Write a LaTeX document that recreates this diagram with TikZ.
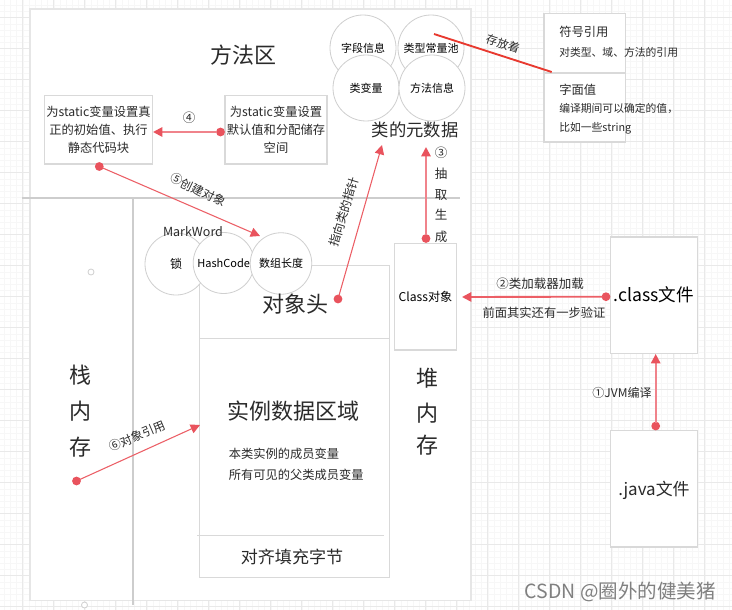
\documentclass[tikz,border=0pt]{standalone}
\usepackage{fontspec}
\setmainfont{Noto Sans CJK SC}
\usetikzlibrary{arrows.meta}
\definecolor{gridminor}{HTML}{F7F7F7}
\definecolor{gridmajor}{HTML}{E9E9E9}
\definecolor{edgegray}{HTML}{D9D9D9}
\definecolor{rimgray}{HTML}{E6E6E6}
\definecolor{ringgray}{HTML}{CFCFCF}
\definecolor{wallgray}{HTML}{CDCDCD}
\definecolor{linkred}{HTML}{EC5F66}
\definecolor{softred}{HTML}{F0838B}
\definecolor{dotred}{HTML}{E9535D}
\definecolor{barred}{HTML}{E8392F}
\definecolor{inkgray}{HTML}{2A2A2A}
\newcommand{\fpx}[1]{\pgfmathsetmacro\fpxval{#1*0.75}\fontsize{\fpxval}{\fpxval}\selectfont}
\tikzset{
  boxx/.style={draw=edgegray,line width=0.9pt,fill=white},
  ring/.style={circle,draw=ringgray,line width=0.6pt,fill=white,inner sep=0pt,minimum size=#1*0.75pt},
  ringfree/.style={circle,draw=ringgray,line width=0.6pt,inner sep=0pt,minimum size=#1*0.75pt},
  lbl/.style={inner sep=0pt,text=inkgray,font=\fontsize{9.2}{11}\selectfont},
  big/.style={inner sep=0pt,text=inkgray,font=\fontsize{#1}{#1}\selectfont},
  dotnode/.style={circle,fill=dotred,inner sep=0pt,minimum size=6.6pt},
  softlink/.style={draw=softred,line width=1.4pt,-{Triangle[length=7pt,width=7pt,color=dotred]},shorten <=-1pt},
  hardlink/.style={draw=linkred,line width=0.8pt,-{Triangle[length=7pt,width=7pt,color=dotred]},shorten <=-1pt},
}
\begin{document}
\begin{tikzpicture}[x=0.75pt,y=-0.75pt]
\useasboundingbox (0,0) rectangle (732,610);
\fill[white] (0,0) rectangle (732,610);
% background grid
\foreach \k in {0,...,118} {\draw[gridminor,line width=0.4pt] ({4.3+6.2*\k},0) -- ({4.3+6.2*\k},610);}
\foreach \k in {0,...,98} {\draw[gridminor,line width=0.4pt] (0,{5.3+6.2*\k}) -- (732,{5.3+6.2*\k});}
\foreach \k in {0,...,23} {\draw[gridmajor,line width=0.5pt] ({22.3+31*\k},0) -- ({22.3+31*\k},610);}
\foreach \k in {0,...,19} {\draw[gridmajor,line width=0.5pt] (0,{17.7+31*\k}) -- (732,{17.7+31*\k});}
% main panel
\draw[draw=rimgray,line width=1.2pt,fill=white] (30,9) rectangle (471,600.5);
\coordinate (wallL) at (22,198); \coordinate (wallR) at (460,198);
\coordinate (wallT) at (133,198); \coordinate (wallB) at (133,605);
\draw[wallgray,line width=1.4pt] (wallL) -- (wallR);
\draw[wallgray,line width=1.4pt] (wallT) -- (wallB);
\node[ringfree=6] (hollowA) at (91,272) {};
\node[ringfree=6,fill=white] (hollowB) at (84.5,605) {};
% metadata circles
\node[ring=66] (cField) at (363,48) {\fpx{11}字段信息};
\node[ring=66] (cPool) at (431,48) {\fpx{11}类型常量池};
\node[ring=66] (cVar) at (366,88) {\fpx{11}类变量};
\node[ring=66] (cMeth) at (432,88) {\fpx{11}方法信息};
\node[big=16.5] (tArea) at (243,55) {方法区};
\node[big=13] (tMeta) at (415,130) {类的元数据};
% static boxes
\node[boxx,lbl,minimum width=81pt,minimum height=51.5pt,align=center] (bInit) at (98.5,129.7)
  {为static变量设置真\\[2.4pt]正的初始值、执行\\[2.4pt]静态代码块};
\node[boxx,lbl,minimum width=76.5pt,minimum height=51.5pt,align=center] (bDef) at (276,129.7)
  {为static变量设置\\[2.4pt]默认值和分配储存\\[2.4pt]空间};
% object rectangle
\node[boxx,minimum width=142.5pt,minimum height=234.5pt,inner sep=0pt] (oBody) at (294.7,421.5) {};
\coordinate (oDivL) at (199.5,338); \coordinate (oDivR) at (390,338);
\draw[edgegray,line width=0.7pt] (oDivL) -- (oDivR);
\coordinate (oPadL) at (197,535); \coordinate (oPadR) at (384,535);
\draw[edgegray,line width=0.6pt] (oPadL) -- (oPadR);
\node[ring=62] (cLock) at (176,264) {\fpx{12}锁};
\node[ring=61] (cHash) at (223.7,263) {\fpx{11}HashCode};
\node[ring=61.5] (cLen) at (281,263.5) {\fpx{11}数组长度};
\node[lbl] (tMark) at (193,232) {\fpx{12.5}MarkWord};
\node[big=16.5] (tHead) at (295,304) {对象头};
\node[big=16.5] (tInst) at (293,411) {实例数据区域};
\node[lbl,anchor=west] (tI1) at (228.5,454) {本类实例的成员变量};
\node[lbl,anchor=west] (tI2) at (228.5,475) {所有可见的父类成员变量};
\node[big=12.8] (tPad) at (292,557) {对齐填充字节};
\node[big=16.5] (tStack1) at (80,375) {栈};
\node[big=16.5] (tStack2) at (80,411) {内};
\node[big=16.5] (tStack3) at (80,447) {存};
\node[big=16.5] (tHeap1) at (427,378) {堆};
\node[big=16.5] (tHeap2) at (427,413) {内};
\node[big=16.5] (tHeap3) at (427,445) {存};
% class object and files
\node[boxx,minimum width=46.8pt,minimum height=80pt,inner sep=0pt] (bClass) at (425.5,296.7) {\fontsize{9.1}{11}\selectfont Class对象};
\node[boxx,minimum width=65.5pt,minimum height=87.3pt,inner sep=0pt] (bCF) at (654,295.2) {\fontsize{13.2}{15}\selectfont .class文件};
\node[boxx,minimum width=65.3pt,minimum height=87.5pt,inner sep=0pt] (bJF) at (653.8,488.7) {};
\node[big=12.7] (tJava) at (654,490) {.java文件};
% reference boxes
\node[boxx,minimum width=61.2pt,minimum height=44.3pt,inner sep=0pt] (bSym) at (584.8,43.3) {};
\node[boxx,minimum width=61.2pt,minimum height=51.7pt,inner sep=0pt] (bLit) at (584.8,107.5) {};
\node[lbl,anchor=west] (tS1) at (559,32) {\fpx{12.3}符号引用};
\node[lbl,anchor=west] (tS2) at (559,52) {\fpx{10.8}对类型、域、方法的引用};
\node[lbl,anchor=west] (tL1) at (559,90) {\fpx{12.3}字面值};
\node[lbl,anchor=west] (tL2) at (559,109) {\fpx{10.8}编译期间可以确定的值，};
\node[lbl,anchor=west] (tL3) at (559,128) {\fpx{10.8}比如一些string};
% connector ends
\coordinate (tipBar) at (551.7,72); \coordinate (startBar) at (434,34);
\draw[barred,line width=1.4pt] (startBar) -- (tipBar);
\node[lbl,rotate=-18] (lStore) at (503,44) {\fpx{11.5}存放着};
\node[dotnode] (d4) at (220.5,132) {};
\coordinate (t4) at (153,132);
\draw[softlink] (d4) -- (t4);
\node[lbl] (l4) at (189,118) {\fpx{12.5}④};
\node[dotnode] (d5) at (99.3,166.5) {};
\coordinate (t5) at (260,236);
\draw[hardlink] (d5) -- (t5);
\node[lbl,rotate=-26] (l5) at (198,190) {\fpx{12}⑤创建对象};
\node[dotnode] (dPtr) at (338,299) {};
\coordinate (tPtr) at (382,145);
\draw[hardlink] (dPtr) -- (tPtr);
\node[lbl,rotate=73] (lPtr) at (344,212) {\fpx{12}指向类的指针};
\node[dotnode] (d3) at (426,238.5) {};
\coordinate (t3) at (426,147);
\draw[softlink] (d3) -- (t3);
\node[lbl] (l3a) at (441,153) {\fpx{12.5}③};
\node[lbl] (l3b) at (441,174) {\fpx{12.5}抽};
\node[lbl] (l3c) at (441,195) {\fpx{12.5}取};
\node[lbl] (l3d) at (441,215) {\fpx{12.5}生};
\node[lbl] (l3e) at (441,237) {\fpx{12.5}成};
\node[dotnode] (d2) at (606,296.7) {};
\coordinate (t2) at (462,297);
\draw[softlink,draw=linkred] (d2) -- (t2);
\node[lbl] (l2) at (540,284) {\fpx{12.5}②类加载器加载};
\node[lbl] (l2b) at (544,313) {\fpx{12.3}前面其实还有一步验证};
\node[dotnode] (d1) at (655.7,426) {};
\coordinate (t1) at (655.7,354);
\draw[softlink] (d1) -- (t1);
\node[lbl] (l1) at (622,393) {\fpx{12}①JVM编译};
\node[dotnode] (d6) at (76.5,481) {};
\coordinate (t6) at (200,425);
\draw[hardlink] (d6) -- (t6);
\node[lbl,rotate=23] (l6) at (137,436) {\fpx{12}⑥对象引用};
% watermark
\node[inner sep=0pt,text=black!50,anchor=east] (wm) at (716,592) {\fpx{19.5}CSDN @圈外的健美猪};
\end{tikzpicture}
\end{document}
